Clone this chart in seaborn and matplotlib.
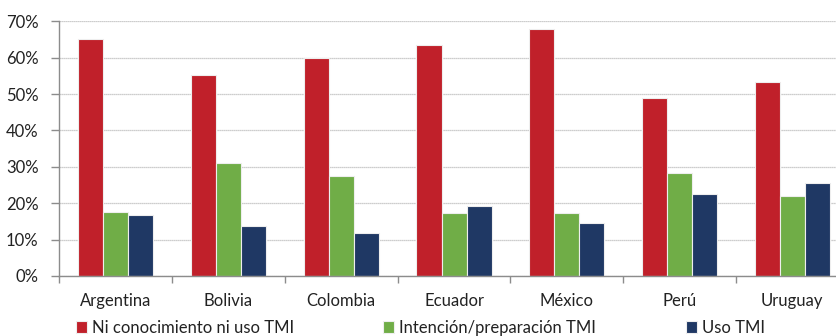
import matplotlib
matplotlib.use("Agg")
import matplotlib.pyplot as plt
import seaborn as sns
import pandas as pd
from matplotlib.ticker import FixedLocator

# Survey shares by country (%)
countries = ["Argentina", "Bolivia", "Colombia", "Ecuador", "México", "Perú", "Uruguay"]
series_names = ["Ni conocimiento ni uso TMI", "Intención/preparación TMI", "Uso TMI"]
ni_conocimiento = [65.2, 55.2, 60.0, 63.4, 67.8, 49.0, 53.2]
intencion = [17.7, 31.0, 27.6, 17.2, 17.3, 28.2, 22.0]
uso = [16.8, 13.7, 11.9, 19.1, 14.5, 22.5, 25.6]
y_ticks = [0, 10, 20, 30, 40, 50, 60, 70]
palette = ["#C0202A", "#70AD47", "#1F3864"]

df = pd.DataFrame({
    "pais": countries * 3,
    "serie": [series_names[0]] * 7 + [series_names[1]] * 7 + [series_names[2]] * 7,
    "valor": ni_conocimiento + intencion + uso,
})

sns.set_theme(style="white")
plt.rcParams["font.family"] = ["Lato", "DejaVu Sans"]

fig = plt.figure(figsize=(8.37, 3.36), dpi=100)
ax = fig.add_axes([0.0709, 0.1786, 0.9431, 0.758])

sns.barplot(data=df, x="pais", y="valor", hue="serie", hue_order=series_names,
            palette=palette, width=0.666, gap=0, edgecolor="#eeeeee",
            linewidth=0.8, saturation=1, ax=ax, errorbar=None)

ax.set_xlim(-0.5, 6.5)
ax.set_ylim(0, 70)
ax.set_yticks(y_ticks)
ax.set_yticklabels([f"{t}%" for t in y_ticks])
ax.set_xlabel("")
ax.set_ylabel("")

# grid and spines
ax.yaxis.grid(True, color="#bdbdbd", linestyle=(0, (1, 0.6)), linewidth=0.9)
ax.set_axisbelow(True)
for side in ["top", "right"]:
    ax.spines[side].set_visible(False)
for side in ["left", "bottom"]:
    ax.spines[side].set_color("#8c8c8c")
    ax.spines[side].set_linewidth(1.0)

# tick marks between categories
ax.xaxis.set_minor_locator(FixedLocator([i - 0.5 for i in range(len(countries) + 1)]))
ax.tick_params(axis="x", which="major", length=0, pad=12, labelsize=12, labelcolor="#222222")
ax.tick_params(axis="x", which="minor", length=5, width=1, color="#8c8c8c", direction="out", bottom=True)
ax.tick_params(axis="y", which="major", length=6, width=1, color="#8c8c8c", direction="out",
               left=True, pad=9, labelsize=12, labelcolor="#222222")

handles, labels = ax.get_legend_handles_labels()
ax.legend_.remove()
fig.legend(handles, labels, loc="center left", bbox_to_anchor=(0.091, 0.024), ncol=3,
           frameon=False, fontsize=12, handlelength=0.66, handleheight=0.66,
           handletextpad=0.3, columnspacing=5.35, borderaxespad=0, borderpad=0,
           labelcolor="#222222")

fig.savefig("out.png", dpi=100)
